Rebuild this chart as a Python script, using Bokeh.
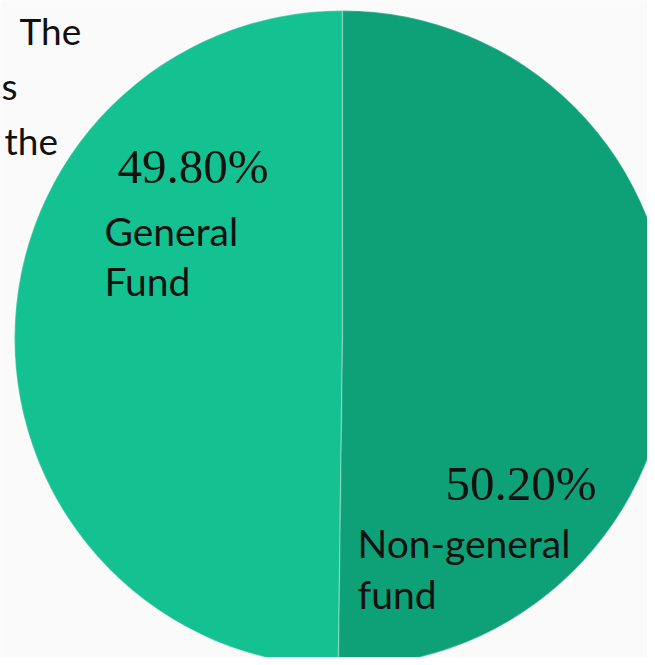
import numpy as np
from bokeh.plotting import figure
from bokeh.models import Range1d, ColumnDataSource
from bokeh.core.properties import value
from bokeh.embed import file_html
from bokeh.resources import INLINE

# ---- data ----
categories = ["General Fund", "Non-general fund"]
shares = [49.80, 50.20]
pct_labels = ["49.80%", "50.20%"]
name_line1 = ["General", "Non-general"]
name_line2 = ["Fund", "fund"]
colors = ["#14C191", "#0EA077"]
slide_words = ["The", "s", "the"]

# ---- figure: data units == picture pixels (x right, y up from bottom) ----
W, H = 647, 657
p = figure(width=W, height=H, output_backend="svg", toolbar_location=None,
           x_range=Range1d(0, W), y_range=Range1d(0, H),
           min_border=0, background_fill_color="#fafafa", border_fill_color="#fafafa")
p.axis.visible = False
p.grid.visible = False
p.outline_line_color = None

def py(img_y):
    return H - img_y

cx, cy, r = 342, py(338), 328

total = float(sum(shares))
fr = np.array(shares) / total
start = np.pi / 2 + np.concatenate([[0.0], np.cumsum(fr)[:-1]]) * 2 * np.pi
end = np.pi / 2 + np.cumsum(fr) * 2 * np.pi

src = ColumnDataSource(dict(cat=categories, start=start, end=end, color=colors))
p.wedge(x=cx, y=cy, radius=r, start_angle="start", end_angle="end",
        direction="anticlock", fill_color="color", line_color="#ffffff",
        line_alpha=0.25, line_width=1.5, source=src)

# percent labels
p.text(x=[117, 445], y=[py(166), py(483)], text=pct_labels,
       text_font=value("Liberation Serif"), text_font_size="49px",
       text_color="#111111", text_baseline="alphabetic", text_align="left")

# name labels
nx = [104, 357]
p.text(x=nx, y=[py(230), py(542)], text=name_line1, text_font=value("Lato"),
       text_font_size="39px", text_color="#111111", text_baseline="alphabetic")
p.text(x=nx, y=[py(280), py(593)], text=name_line2, text_font=value("Lato"),
       text_font_size="39px", text_color="#111111", text_baseline="alphabetic")

# slide text at top-left (kept fully visible)
p.text(x=[19, 1, 4], y=[py(30), py(85), py(140)], text=slide_words,
       text_font=value("Lato"), text_font_size="37px", text_color="#111111",
       text_baseline="alphabetic")

open("out.html", "w").write(file_html(p, INLINE))
